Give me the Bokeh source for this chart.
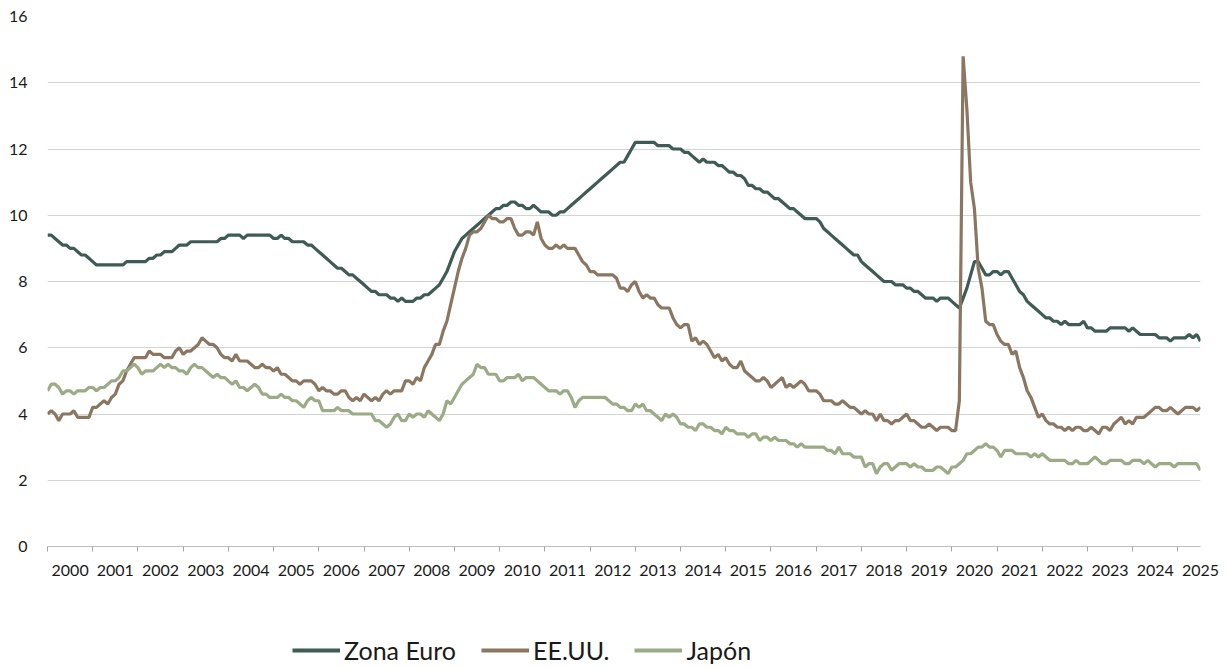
import numpy as np
from bokeh.plotting import figure
from bokeh.layouts import column
from bokeh.models import (ColumnDataSource, FixedTicker, CustomJSTickFormatter,
                          Legend, LegendItem, Range1d)
from bokeh.embed import file_html
from bokeh.resources import INLINE

# Monthly unemployment rate (%), Jan 2000 .. Jul 2025
start_year = 2000
series_names = ["Zona Euro", "EE.UU.", "Japón"]
year_labels = [str(y) for y in range(2000, 2026)]

zona_euro = [
    9.4, 9.4, 9.3, 9.2, 9.1, 9.1, 9.0, 9.0, 8.9, 8.8, 8.8, 8.7,   # 2000
    8.6, 8.5, 8.5, 8.5, 8.5, 8.5, 8.5, 8.5, 8.5, 8.6, 8.6, 8.6,   # 2001
    8.6, 8.6, 8.6, 8.7, 8.7, 8.8, 8.8, 8.9, 8.9, 8.9, 9.0, 9.1,   # 2002
    9.1, 9.1, 9.2, 9.2, 9.2, 9.2, 9.2, 9.2, 9.2, 9.2, 9.3, 9.3,   # 2003
    9.4, 9.4, 9.4, 9.4, 9.3, 9.4, 9.4, 9.4, 9.4, 9.4, 9.4, 9.4,   # 2004
    9.3, 9.3, 9.4, 9.3, 9.3, 9.2, 9.2, 9.2, 9.2, 9.1, 9.1, 9.0,   # 2005
    8.9, 8.8, 8.7, 8.6, 8.5, 8.4, 8.4, 8.3, 8.2, 8.2, 8.1, 8.0,   # 2006
    7.9, 7.8, 7.7, 7.7, 7.6, 7.6, 7.6, 7.5, 7.5, 7.4, 7.5, 7.4,   # 2007
    7.4, 7.4, 7.5, 7.5, 7.6, 7.6, 7.7, 7.8, 7.9, 8.1, 8.3, 8.6,   # 2008
    8.9, 9.1, 9.3, 9.4, 9.5, 9.6, 9.7, 9.8, 9.9, 10.0, 10.1, 10.2,  # 2009
    10.2, 10.3, 10.3, 10.4, 10.4, 10.3, 10.3, 10.2, 10.2, 10.3, 10.2, 10.1,  # 2010
    10.1, 10.1, 10.0, 10.0, 10.1, 10.1, 10.2, 10.3, 10.4, 10.5, 10.6, 10.7,  # 2011
    10.8, 10.9, 11.0, 11.1, 11.2, 11.3, 11.4, 11.5, 11.6, 11.6, 11.8, 12.0,  # 2012
    12.2, 12.2, 12.2, 12.2, 12.2, 12.2, 12.1, 12.1, 12.1, 12.1, 12.0, 12.0,  # 2013
    12.0, 11.9, 11.9, 11.8, 11.7, 11.6, 11.7, 11.6, 11.6, 11.6, 11.5, 11.5,  # 2014
    11.4, 11.3, 11.3, 11.2, 11.2, 11.1, 10.9, 10.9, 10.8, 10.8, 10.7, 10.7,  # 2015
    10.6, 10.5, 10.5, 10.4, 10.3, 10.2, 10.2, 10.1, 10.0, 9.9, 9.9, 9.9,   # 2016
    9.9, 9.8, 9.6, 9.5, 9.4, 9.3, 9.2, 9.1, 9.0, 8.9, 8.8, 8.8,   # 2017
    8.6, 8.5, 8.4, 8.3, 8.2, 8.1, 8.0, 8.0, 8.0, 7.9, 7.9, 7.9,   # 2018
    7.8, 7.8, 7.7, 7.7, 7.6, 7.5, 7.5, 7.5, 7.4, 7.5, 7.5, 7.5,   # 2019
    7.4, 7.3, 7.2, 7.5, 7.8, 8.2, 8.6, 8.6, 8.4, 8.2, 8.2, 8.3,   # 2020
    8.3, 8.2, 8.3, 8.3, 8.1, 7.9, 7.7, 7.6, 7.4, 7.3, 7.2, 7.1,   # 2021
    7.0, 6.9, 6.9, 6.8, 6.8, 6.7, 6.8, 6.7, 6.7, 6.7, 6.7, 6.8,   # 2022
    6.6, 6.6, 6.5, 6.5, 6.5, 6.5, 6.6, 6.6, 6.6, 6.6, 6.6, 6.5,   # 2023
    6.6, 6.5, 6.4, 6.4, 6.4, 6.4, 6.4, 6.3, 6.3, 6.3, 6.2, 6.3,   # 2024
    6.3, 6.3, 6.3, 6.4, 6.3, 6.4, 6.2,                            # 2025
]

ee_uu = [
    4.0, 4.1, 4.0, 3.8, 4.0, 4.0, 4.0, 4.1, 3.9, 3.9, 3.9, 3.9,   # 2000
    4.2, 4.2, 4.3, 4.4, 4.3, 4.5, 4.6, 4.9, 5.0, 5.3, 5.5, 5.7,   # 2001
    5.7, 5.7, 5.7, 5.9, 5.8, 5.8, 5.8, 5.7, 5.7, 5.7, 5.9, 6.0,   # 2002
    5.8, 5.9, 5.9, 6.0, 6.1, 6.3, 6.2, 6.1, 6.1, 6.0, 5.8, 5.7,   # 2003
    5.7, 5.6, 5.8, 5.6, 5.6, 5.6, 5.5, 5.4, 5.4, 5.5, 5.4, 5.4,   # 2004
    5.3, 5.4, 5.2, 5.2, 5.1, 5.0, 5.0, 4.9, 5.0, 5.0, 5.0, 4.9,   # 2005
    4.7, 4.8, 4.7, 4.7, 4.6, 4.6, 4.7, 4.7, 4.5, 4.4, 4.5, 4.4,   # 2006
    4.6, 4.5, 4.4, 4.5, 4.4, 4.6, 4.7, 4.6, 4.7, 4.7, 4.7, 5.0,   # 2007
    5.0, 4.9, 5.1, 5.0, 5.4, 5.6, 5.8, 6.1, 6.1, 6.5, 6.8, 7.3,   # 2008
    7.8, 8.3, 8.7, 9.0, 9.4, 9.5, 9.5, 9.6, 9.8, 10.0, 9.9, 9.9,  # 2009
    9.8, 9.8, 9.9, 9.9, 9.6, 9.4, 9.4, 9.5, 9.5, 9.4, 9.8, 9.3,   # 2010
    9.1, 9.0, 9.0, 9.1, 9.0, 9.1, 9.0, 9.0, 9.0, 8.8, 8.6, 8.5,   # 2011
    8.3, 8.3, 8.2, 8.2, 8.2, 8.2, 8.2, 8.1, 7.8, 7.8, 7.7, 7.9,   # 2012
    8.0, 7.7, 7.5, 7.6, 7.5, 7.5, 7.3, 7.2, 7.2, 7.2, 6.9, 6.7,   # 2013
    6.6, 6.7, 6.7, 6.2, 6.3, 6.1, 6.2, 6.1, 5.9, 5.7, 5.8, 5.6,   # 2014
    5.7, 5.5, 5.4, 5.4, 5.6, 5.3, 5.2, 5.1, 5.0, 5.0, 5.1, 5.0,   # 2015
    4.8, 4.9, 5.0, 5.1, 4.8, 4.9, 4.8, 4.9, 5.0, 4.9, 4.7, 4.7,   # 2016
    4.7, 4.6, 4.4, 4.4, 4.4, 4.3, 4.3, 4.4, 4.3, 4.2, 4.2, 4.1,   # 2017
    4.0, 4.1, 4.0, 4.0, 3.8, 4.0, 3.8, 3.8, 3.7, 3.8, 3.8, 3.9,   # 2018
    4.0, 3.8, 3.8, 3.7, 3.6, 3.6, 3.7, 3.6, 3.5, 3.6, 3.6, 3.6,   # 2019
    3.5, 3.5, 4.4, 14.8, 13.2, 11.0, 10.2, 8.4, 7.8, 6.8, 6.7, 6.7,  # 2020
    6.4, 6.2, 6.1, 6.1, 5.8, 5.9, 5.4, 5.1, 4.7, 4.5, 4.2, 3.9,   # 2021
    4.0, 3.8, 3.7, 3.7, 3.6, 3.6, 3.5, 3.6, 3.5, 3.6, 3.6, 3.5,   # 2022
    3.5, 3.6, 3.5, 3.4, 3.6, 3.6, 3.5, 3.7, 3.8, 3.9, 3.7, 3.8,   # 2023
    3.7, 3.9, 3.9, 3.9, 4.0, 4.1, 4.2, 4.2, 4.1, 4.1, 4.2, 4.1,   # 2024
    4.0, 4.1, 4.2, 4.2, 4.2, 4.1, 4.2,                            # 2025
]

japon = [
    4.7, 4.9, 4.9, 4.8, 4.6, 4.7, 4.7, 4.6, 4.7, 4.7, 4.7, 4.8,   # 2000
    4.8, 4.7, 4.8, 4.8, 4.9, 5.0, 5.0, 5.1, 5.3, 5.3, 5.4, 5.5,   # 2001
    5.4, 5.2, 5.3, 5.3, 5.3, 5.4, 5.5, 5.4, 5.5, 5.4, 5.4, 5.3,   # 2002
    5.3, 5.2, 5.4, 5.5, 5.4, 5.4, 5.3, 5.2, 5.1, 5.2, 5.1, 5.1,   # 2003
    5.0, 4.9, 5.0, 4.8, 4.8, 4.7, 4.8, 4.9, 4.8, 4.6, 4.6, 4.5,   # 2004
    4.5, 4.5, 4.6, 4.5, 4.5, 4.4, 4.4, 4.3, 4.2, 4.4, 4.5, 4.4,   # 2005
    4.4, 4.1, 4.1, 4.1, 4.1, 4.2, 4.1, 4.1, 4.1, 4.0, 4.0, 4.0,   # 2006
    4.0, 4.0, 4.0, 3.8, 3.8, 3.7, 3.6, 3.7, 3.9, 4.0, 3.8, 3.8,   # 2007
    4.0, 3.9, 4.0, 4.0, 3.9, 4.1, 4.0, 3.9, 3.8, 4.0, 4.4, 4.3,   # 2008
    4.5, 4.7, 4.9, 5.0, 5.1, 5.2, 5.5, 5.4, 5.4, 5.2, 5.2, 5.2,   # 2009
    5.0, 5.0, 5.1, 5.1, 5.1, 5.2, 5.0, 5.1, 5.1, 5.1, 5.0, 4.9,   # 2010
    4.8, 4.7, 4.7, 4.7, 4.6, 4.7, 4.7, 4.5, 4.2, 4.4, 4.5, 4.5,   # 2011
    4.5, 4.5, 4.5, 4.5, 4.5, 4.4, 4.3, 4.3, 4.2, 4.2, 4.1, 4.1,   # 2012
    4.3, 4.2, 4.3, 4.1, 4.1, 4.0, 3.9, 3.8, 4.0, 3.9, 4.0, 3.9,   # 2013
    3.7, 3.7, 3.6, 3.6, 3.5, 3.7, 3.7, 3.6, 3.6, 3.5, 3.5, 3.4,   # 2014
    3.6, 3.5, 3.5, 3.4, 3.4, 3.4, 3.3, 3.4, 3.4, 3.2, 3.3, 3.3,   # 2015
    3.2, 3.3, 3.2, 3.2, 3.2, 3.1, 3.1, 3.0, 3.1, 3.0, 3.0, 3.0,   # 2016
    3.0, 3.0, 3.0, 2.9, 2.9, 2.8, 3.0, 2.8, 2.8, 2.8, 2.7, 2.7,   # 2017
    2.7, 2.4, 2.5, 2.5, 2.2, 2.4, 2.5, 2.5, 2.3, 2.4, 2.5, 2.5,   # 2018
    2.5, 2.4, 2.5, 2.4, 2.4, 2.3, 2.3, 2.3, 2.4, 2.4, 2.3, 2.2,   # 2019
    2.4, 2.4, 2.5, 2.6, 2.8, 2.8, 2.9, 3.0, 3.0, 3.1, 3.0, 3.0,   # 2020
    2.9, 2.7, 2.9, 2.9, 2.9, 2.8, 2.8, 2.8, 2.8, 2.7, 2.8, 2.7,   # 2021
    2.8, 2.7, 2.6, 2.6, 2.6, 2.6, 2.6, 2.5, 2.5, 2.6, 2.5, 2.5,   # 2022
    2.5, 2.6, 2.7, 2.6, 2.5, 2.5, 2.6, 2.6, 2.6, 2.6, 2.5, 2.5,   # 2023
    2.6, 2.6, 2.6, 2.5, 2.6, 2.5, 2.4, 2.5, 2.5, 2.5, 2.5, 2.4,   # 2024
    2.5, 2.5, 2.5, 2.5, 2.5, 2.5, 2.3,                            # 2025
]

y_ticks = [0, 2, 4, 6, 8, 10, 12, 14, 16]

n = len(zona_euro)
x = start_year + np.arange(n) / 12.0
src = ColumnDataSource(dict(x=x, ez=zona_euro, us=ee_uu, jp=japon))

FONT = "Lato"
TXT = "#1a1a1a"
COLORS = ["#3e5b55", "#8b7761", "#9bab86"]
FIELDS = ["ez", "us", "jp"]
LW = 3.2
W = 1228

p = figure(width=W, height=612, output_backend="svg", toolbar_location=None,
           x_range=Range1d(2000, start_year + (n - 1) / 12.0),
           y_range=Range1d(0, 16),
           min_border_left=47, min_border_right=28, min_border_top=16,
           min_border_bottom=66)
p.outline_line_color = None
p.border_fill_color = "white"

for f, c in zip(FIELDS, COLORS):
    p.line("x", f, source=src, line_color=c, line_width=LW)

# y axis
p.yaxis.ticker = FixedTicker(ticks=y_ticks)
p.yaxis.axis_line_color = None
p.yaxis.major_tick_line_color = None
p.yaxis.major_tick_out = 0
p.yaxis.major_tick_in = 0
p.yaxis.minor_tick_line_color = None
p.yaxis.major_label_text_font = FONT
p.yaxis.major_label_text_font_size = "16px"
p.yaxis.major_label_text_color = TXT
p.yaxis.major_label_standoff = 20

# x axis: labels centred between year ticks
label_pos = [int(s) + 0.5 for s in year_labels]
tick_pos = [int(s) for s in year_labels]
p.xaxis.ticker = FixedTicker(ticks=label_pos, minor_ticks=tick_pos)
p.xaxis.formatter = CustomJSTickFormatter(code="return String(Math.floor(tick));")
p.xaxis.axis_line_color = "#bfbfbf"
p.xaxis.axis_line_width = 1.2
p.xaxis.major_tick_line_color = None
p.xaxis.major_tick_out = 5
p.xaxis.major_tick_in = 0
p.xaxis.minor_tick_line_color = "#a6a6a6"
p.xaxis.minor_tick_out = 5
p.xaxis.minor_tick_in = 0
p.xaxis.major_label_text_font = FONT
p.xaxis.major_label_text_font_size = "16px"
p.xaxis.major_label_text_color = TXT
p.xaxis.major_label_standoff = 13

p.xgrid.grid_line_color = None
p.ygrid.grid_line_color = "#d4d4d4"
p.ygrid.grid_line_width = 1.2

# legend strip below the chart
lg = figure(width=W, height=56, output_backend="svg", toolbar_location=None,
            x_range=Range1d(0, 1), y_range=Range1d(0, 1),
            x_axis_location=None, y_axis_location=None,
            min_border_left=47, min_border_right=28, min_border_top=0,
            min_border_bottom=0)
lg.outline_line_color = None
lg.xgrid.grid_line_color = None
lg.ygrid.grid_line_color = None
items = []
for name, f, c in zip(series_names, FIELDS, COLORS):
    r = lg.line("x", f, source=src, line_color=c, line_width=LW + 0.8)
    items.append(LegendItem(label=name, renderers=[r]))

legend = Legend(items=items, orientation="horizontal", location=(245, 3))
legend.label_text_font = FONT
legend.label_text_font_size = "25px"
legend.label_text_color = TXT
legend.glyph_width = 48
legend.glyph_height = 28
legend.label_height = 28
legend.label_standoff = 4
legend.spacing = 25
legend.padding = 0
legend.margin = 0
legend.border_line_color = None
legend.background_fill_alpha = 0
lg.add_layout(legend, "center")

open("out.html", "w").write(file_html(column(p, lg, spacing=0), INLINE))
